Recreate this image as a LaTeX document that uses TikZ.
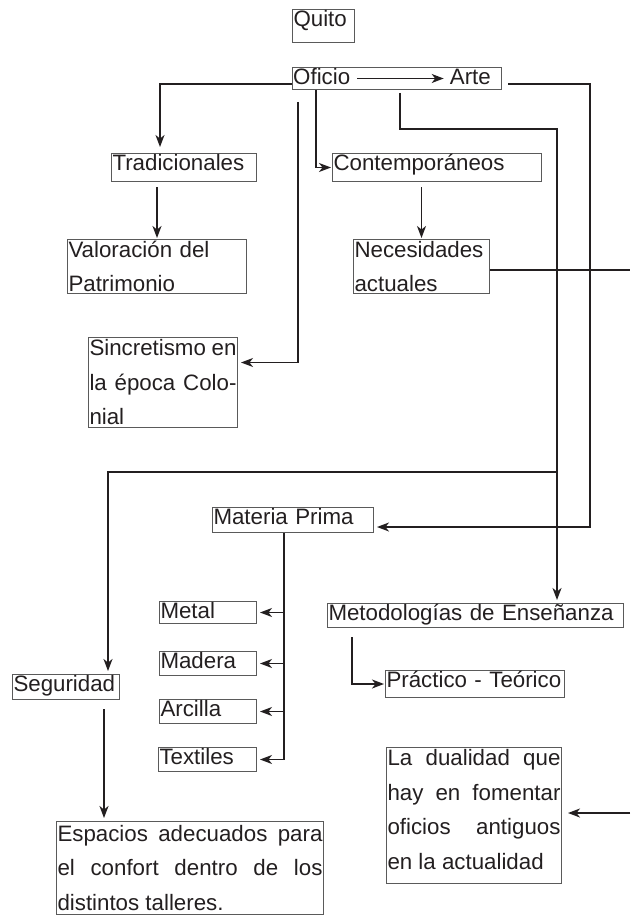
\documentclass[tikz,border=0pt]{standalone}
\usepackage{fontspec}
\setmainfont{Liberation Sans}
\usepackage{xcolor}
\usetikzlibrary{arrows.meta}
\definecolor{ink}{HTML}{231F20}
\definecolor{frame}{HTML}{5A5A5A}

\begin{document}
\begin{tikzpicture}[x=1pt, y=-1pt, >={Stealth[length=12pt, width=9pt, inset=3.5pt]},
    cell/.style={rectangle, draw=frame, line width=1pt, anchor=north west, inner xsep=1pt, inner ysep=1pt, align=left, text=ink, font=\fontsize{22.3}{34.5}\selectfont},
    plain/.style={inner sep=0pt, text=ink, text height=16pt, text depth=4pt, font=\fontsize{22.3}{34.5}\selectfont},
    wire/.style={draw=ink, line width=1.4pt},
    link/.style={wire, ->, shorten >=3pt}]
    \useasboundingbox (0,0) rectangle (630,915);

    \node [cell, text width=60pt, text height=16pt, text depth=15pt] (quito) at (292, 9) {Quito};
    \node [rectangle, draw=frame, line width=1pt, anchor=north west, minimum width=209pt, minimum height=22pt, inner sep=0pt] (oficioarte) at (292, 67) {};
    \node [plain, anchor=west] (oficio) at ([xshift=1pt]oficioarte.west) {Oficio};
    \node [plain, anchor=east] (arte) at ([xshift=-11pt]oficioarte.east) {Arte};
    \node [cell, text width=143pt, text height=16pt, text depth=10pt] (tradicionales) at (111, 153) {Tradicionales};
    \node [cell, text width=207pt, text height=16pt, text depth=10pt] (contemporaneos) at (332, 153) {Contemporáneos};
    \node [cell, text width=177pt, minimum height=54pt] (valoracion) at (67, 239) {Valoración del\\Patrimonio};
    \node [cell, text width=134pt, minimum height=54pt] (necesidades) at (353, 239) {Necesidades\\actuales};
    \node [cell, text width=147pt, minimum height=90pt, align=justify] (sincretismo) at (88, 337) {Sincretismo en\linebreak la época Colo-\linebreak nial};
    \node [cell, text width=159pt, text height=16pt, text depth=7pt] (materia) at (212, 507) {Materia Prima};
    \node [cell, text width=95pt, text height=16pt, text depth=4pt] (metal) at (159, 601) {Metal};
    \node [cell, text width=95pt, text height=16pt, text depth=6pt] (madera) at (159, 651) {Madera};
    \node [cell, text width=95pt, text height=16pt, text depth=6pt] (arcilla) at (159, 699) {Arcilla};
    \node [cell, text width=96pt, text height=16pt, text depth=6pt] (textiles) at (158, 747) {Textiles};
    \node [cell, text width=105pt, text height=16pt, text depth=7pt] (seguridad) at (12, 674) {Seguridad};
    \node [cell, text width=294pt, text height=16pt, text depth=6pt] (metodologias) at (327, 603) {Metodologías de Enseñanza};
    \node [cell, text width=177pt, text height=16pt, text depth=9pt] (practico) at (385, 670) {Práctico - Teórico};
    \node [cell, text width=265pt, minimum height=93pt, align=justify] (espacios) at (56, 821) {Espacios adecuados para\linebreak el confort dentro de los\linebreak distintos talleres.};
    \node [cell, text width=173pt, minimum height=136pt, align=justify] (dualidad) at (386, 747) {La dualidad que\linebreak hay en fomentar\linebreak oficios antiguos\linebreak en la actualidad\rule[-12pt]{0pt}{12pt}};

    \coordinate (sincstart) at (298, 102);
    \coordinate (materiacorner) at (590, 527);
    \coordinate (seguridadbranch) at (557, 472);
    \coordinate (rightedgeA) at (630, 270);
    \coordinate (rightedgeB) at (630, 813);

    \draw [link, shorten <=7pt, shorten >=6pt] (oficio) -- (arte);
    \draw [link, shorten >=6pt] (oficioarte.west |- 0,84) -| (tradicionales.north -| 160,0);
    \draw [link, shorten >=1pt] (oficioarte.south -| 316,0) |- (contemporaneos.west);
    \draw [link] (sincstart) |- ([yshift=20pt]sincretismo.east);
    \draw [link, shorten <=6pt] (oficioarte.east |- 0,84) -| (materiacorner) -- (materia.east |- materiacorner);
    \draw [link, shorten <=3pt] (oficioarte.south -| 400,0) |- (557,129) -- (metodologias.north -| 557,0);
    \draw [link] (seguridadbranch) -| (seguridad.north -| 108,0);
    \draw [link, shorten <=5pt, shorten >=1pt] (tradicionales.south -| valoracion.north) -- (valoracion.north);
    \draw [link, shorten <=5pt, shorten >=1pt] (contemporaneos.south -| necesidades.north) -- (necesidades.north);
    \draw [wire] (necesidades.east |- rightedgeA) -- (rightedgeA);
    \draw [link, shorten >=6pt] (rightedgeB) -- (dualidad.east |- rightedgeB);
    \draw [wire] (materia.south -| 284,0) -- (textiles.east -| 284,0);
    \foreach \mat in {metal, madera, arcilla, textiles}
        \draw [link] (\mat.east -| 284,0) -- (\mat.east);
    \draw [link, shorten <=9pt] (seguridad.south -| 104,0) -- (espacios.north -| 104,0);
    \draw [link, shorten <=9pt, shorten >=1pt] (metodologias.south -| 352,0) |- (practico.west);
\end{tikzpicture}
\end{document}
